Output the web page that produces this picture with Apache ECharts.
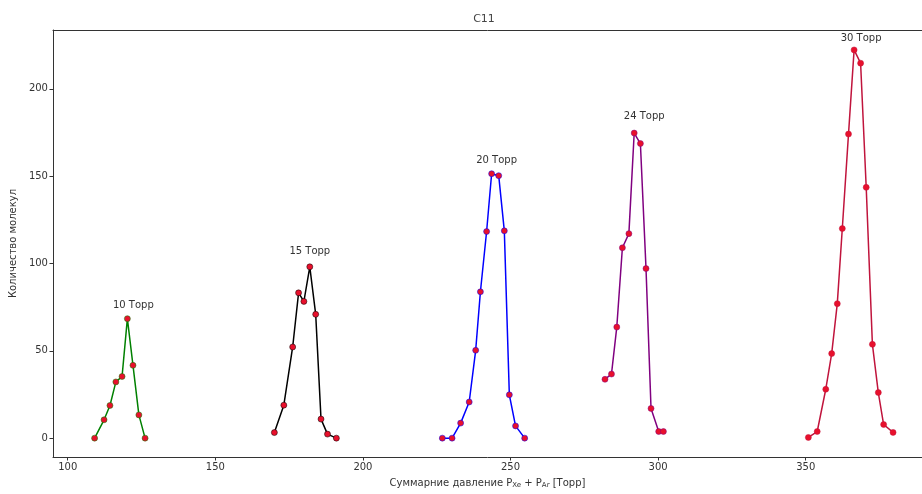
<!DOCTYPE html>
<html>
<head>
<meta charset="utf-8">
<script src="https://cdn.jsdelivr.net/npm/echarts@6/dist/echarts.min.js"></script>
<style>html,body{margin:0;padding:0;background:#fff;}#c{width:922px;height:494px;}</style>
</head>
<body>
<div id="c"></div>
<script>
// ---- data ----
const names = ['10 Торр', '15 Торр', '20 Торр', '24 Торр', '30 Торр'];
const x10 = [109.1, 112.3, 114.3, 116.3, 118.4, 120.2, 122.1, 124.1, 126.2];
const y10 = [0, 10.5, 18.7, 32.2, 35.3, 68.4, 41.7, 13.3, 0];
const x15 = [170.0, 173.2, 176.2, 178.2, 180.0, 182.0, 184.0, 185.8, 188.0, 191.0];
const y15 = [3.2, 18.9, 52.2, 83.2, 78.3, 98.1, 70.9, 10.9, 2.3, 0];
const x20 = [226.9, 230.2, 233.1, 236.0, 238.2, 239.8, 241.9, 243.6, 246.0, 247.9, 249.6, 251.7, 254.8];
const y20 = [0, 0, 8.6, 20.7, 50.3, 83.8, 118.3, 151.4, 150.3, 118.7, 24.8, 7.0, 0];
const x24 = [282.0, 284.2, 286.0, 287.9, 290.1, 291.9, 294.0, 295.9, 297.6, 300.2, 301.8];
const y24 = [33.7, 36.7, 63.6, 109.0, 117.1, 174.7, 168.7, 97.1, 17.0, 3.8, 3.8];
const x30 = [350.9, 353.9, 356.8, 358.8, 360.7, 362.4, 364.5, 366.4, 368.6, 370.5, 372.6, 374.6, 376.4, 379.6];
const y30 = [0.4, 3.8, 28.0, 48.4, 77.0, 120.0, 174.1, 222.3, 214.7, 143.6, 53.7, 26.1, 7.8, 3.3];
const xTicks = [100, 150, 200, 250, 300, 350];
const yTicks = [0, 50, 100, 150, 200];
const yTickLabels = ['0', '50', '100', '150', '200'];

// ---- styles ----
const xs = [x10, x15, x20, x24, x30];
const ys = [y10, y15, y20, y24, y30];
const lineColors = ['#008000', '#000000', '#0000ff', '#800080', '#c0143c'];
const labelOffsets = [[6, 0], [0, -2], [5, 0], [10, -3], [7, 2]];
const markerColor = '#e8102c';
const font = 'DejaVu Sans';
const axisColor = '#333';

const series = names.map((nm, i) => {
  const yy = ys[i];
  let mi = 0;
  yy.forEach((v, k) => { if (v > yy[mi]) mi = k; });
  return {
    name: nm,
    type: 'line',
    data: xs[i].map((xv, k) => {
      const item = { value: [xv, yy[k]] };
      if (k === mi) {
        item.label = {
          show: true, position: 'top', formatter: nm, offset: labelOffsets[i],
          fontFamily: font, fontSize: 10, color: '#333'
        };
      }
      return item;
    }),
    symbol: 'circle',
    symbolSize: 6,
    showAllSymbol: true,
    itemStyle: { color: markerColor, borderColor: lineColors[i], borderWidth: 0.5 },
    lineStyle: { color: lineColors[i], width: 1.5 },
    z: 2,
    animation: false
  };
});

const xMin = 95, xMax = 389.4;
const chart = echarts.init(document.getElementById('c'), null, { renderer: 'canvas' });
chart.setOption({
  backgroundColor: '#ffffff',
  animation: false,
  title: {
    text: 'C11', left: 479, top: 9, textAlign: 'center',
    textStyle: { fontFamily: font, fontSize: 11, fontWeight: 'normal', color: '#444' }
  },
  grid: { left: 52, right: 0, top: 30, bottom: 35, show: false },
  xAxis: [{
    type: 'value', min: xMin, max: xMax,
    name: 'Суммарние давление {i|P}{s|Xe}{i| + P}{s|Ar}{i| [Торр]}',
    nameLocation: 'middle', nameGap: 21,
    nameTextStyle: {
      fontFamily: font, fontSize: 10, color: '#333',
      rich: {
        i: { fontFamily: font, fontSize: 10, color: '#333' },
        s: { fontFamily: font, fontSize: 7, color: '#333', verticalAlign: 'bottom', padding: [4, 0, 0, 0] }
      }
    },
    splitLine: { show: false },
    axisLine: { show: true, onZero: false, lineStyle: { color: axisColor, width: 1 } },
    axisTick: { show: true, length: 3.5, customValues: xTicks, lineStyle: { color: axisColor } },
    axisLabel: { customValues: xTicks, fontFamily: font, fontSize: 10, color: '#333', margin: 5 }
  }, {
    type: 'value', min: xMin, max: xMax, position: 'top',
    splitLine: { show: false },
    axisLine: { show: true, onZero: false, lineStyle: { color: axisColor, width: 1 } },
    axisTick: { show: false }, axisLabel: { show: false }
  }],
  yAxis: {
    type: 'value', min: -10.8, max: 233.7,
    name: 'Количество молекул',
    nameLocation: 'middle', nameGap: 29,
    nameTextStyle: { fontFamily: font, fontSize: 10, color: '#333' },
    splitLine: { show: false },
    axisLine: { show: true, onZero: false, lineStyle: { color: axisColor, width: 1 } },
    axisTick: { show: true, length: 3.5, customValues: yTicks, lineStyle: { color: axisColor } },
    axisLabel: {
      customValues: yTicks, fontFamily: font, fontSize: 10, color: '#333', margin: 5,
      formatter: v => { const k = yTicks.indexOf(v); return k >= 0 ? yTickLabels[k] : ''; }
    }
  },
  series: series
});
</script>
</body>
</html>
